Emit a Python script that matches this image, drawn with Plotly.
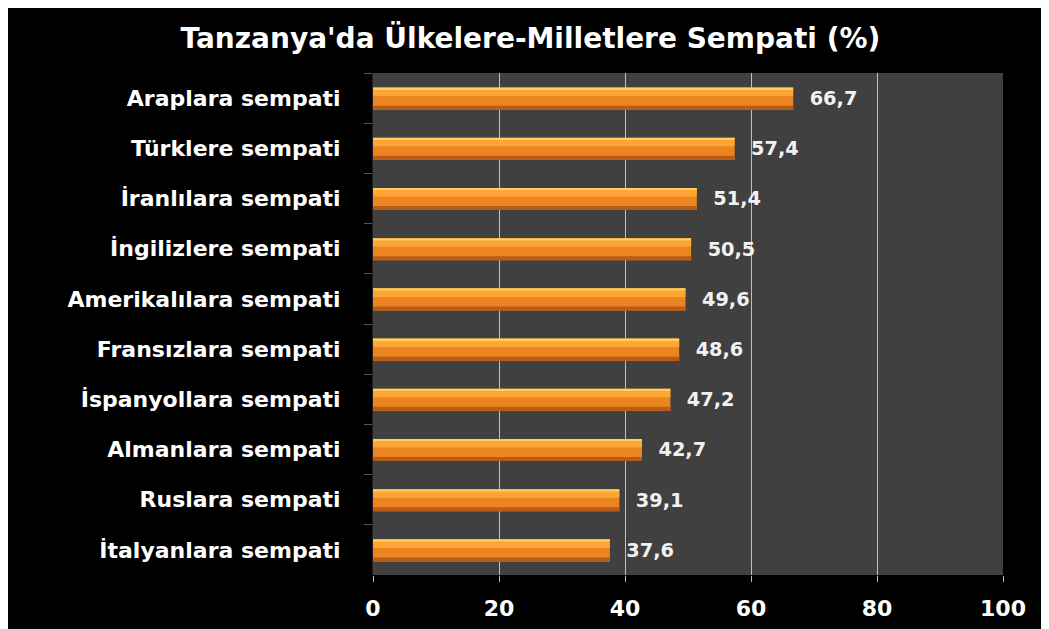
import plotly.graph_objects as go

# Veriler (yukarıdan aşağıya)
kategoriler = [
    "Araplara sempati",
    "Türklere sempati",
    "İranlılara sempati",
    "İngilizlere sempati",
    "Amerikalılara sempati",
    "Fransızlara sempati",
    "İspanyollara sempati",
    "Almanlara sempati",
    "Ruslara sempati",
    "İtalyanlara sempati",
]
degerler = [66.7, 57.4, 51.4, 50.5, 49.6, 48.6, 47.2, 42.7, 39.1, 37.6]
x_ticks = [0, 20, 40, 60, 80, 100]

etiketler = ["\u00a0\u00a0" + f"{v:.1f}".replace(".", ",") for v in degerler]

FONT = "DejaVu Sans"

fig = go.Figure()

# Ana çubuk
fig.add_trace(go.Bar(
    y=kategoriler, x=degerler, orientation="h",
    width=0.44, offset=-0.21,
    marker=dict(color="#EC8520", line=dict(width=0)),
    text=etiketler, textposition="outside", cliponaxis=False,
    textfont=dict(family=FONT, size=21, color="#F2F2F2", weight="bold"),
    hoverinfo="skip",
))
# Parlak üst şerit
fig.add_trace(go.Bar(
    y=kategoriler, x=degerler, orientation="h",
    width=0.05, offset=-0.21,
    marker=dict(color="#FFD060", line=dict(width=0)),
    hoverinfo="skip",
))
fig.add_trace(go.Bar(
    y=kategoriler, x=degerler, orientation="h",
    width=0.12, offset=-0.16,
    marker=dict(color="#FDA535", line=dict(width=0)),
    hoverinfo="skip",
))
# Koyu alt şerit
fig.add_trace(go.Bar(
    y=kategoriler, x=degerler, orientation="h",
    width=0.08, offset=0.15,
    marker=dict(color="#B95C16", line=dict(width=0)),
    hoverinfo="skip",
))

fig.update_layout(
    width=1049, height=629,
    barmode="overlay",
    showlegend=False,
    paper_bgcolor="black",
    plot_bgcolor="#404040",
    margin=dict(l=365, r=54, t=65, b=62),
    title=dict(
        text="Tanzanya'da Ülkelere-Milletlere Sempati (%)",
        x=0.498, xanchor="center", y=0.952, yanchor="middle",
        font=dict(family=FONT, size=28, color="white", weight="bold"),
    ),
    xaxis=dict(
        range=[0, 100], tickvals=x_ticks,
        showgrid=True, gridcolor="#BFBFBF", gridwidth=1,
        zeroline=False, showline=False,
        ticks="outside", ticklen=6, tickcolor="#BFBFBF",
        tickfont=dict(family=FONT, size=22, color="white", weight="bold"),
        ticklabelstandoff=8,
    ),
    yaxis=dict(
        autorange="reversed",
        showgrid=False, zeroline=False,
        showline=True, linecolor="#202020",
        ticks="outside", tickson="boundaries", ticklen=8, tickcolor="#555555",
        tickfont=dict(family=FONT, size=22, color="white", weight="bold"),
        ticklabelstandoff=27,
    ),
)

fig.write_html("out.html")
